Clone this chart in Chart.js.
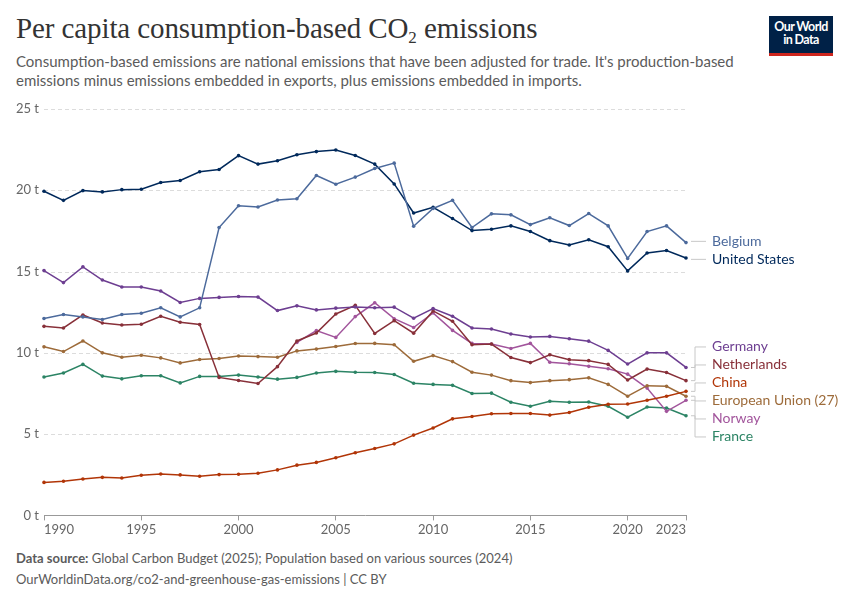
<!DOCTYPE html>
<html>
<head>
<meta charset="utf-8">
<script src="https://cdn.jsdelivr.net/npm/chart.js@4"></script>
<style>
  body { margin: 0; background: #fff; font-family: Lato, "Noto Sans", sans-serif; }
  #page { position: relative; width: 850px; height: 600px; overflow: hidden; }
  h1 { position: absolute; left: 16px; top: 11px; margin: 0; font-family: "Liberation Serif", "DejaVu Serif", serif; font-weight: normal; font-size: 29px; color: #333; letter-spacing: -0.1px; line-height: 34px; }
  h1 sub { font-size: 17px; vertical-align: -5px; line-height: 0; }
  #sub { position: absolute; left: 16px; top: 52px; width: 740px; font-size: 15px; line-height: 19px; color: #5b5b5b; }
  #logo { position: absolute; left: 769px; top: 16px; width: 64px; height: 33px; background: #002147; border-bottom: 3px solid #ce261e; color: #fff; font-size: 12.5px; font-weight: bold; line-height: 13px; text-align: center; padding-top: 4px; letter-spacing: -0.6px; font-family: "Liberation Sans Narrow", Lato, sans-serif; }
  #wrap { position: absolute; left: 0; top: 95px; width: 850px; height: 445px; }
  #foot { position: absolute; left: 16px; top: 548px; font-size: 13px; color: #5b5b5b; line-height: 21px; }
  #foot b { font-weight: bold; }
</style>
</head>
<body>
<div id="page">
  <h1>Per capita consumption-based CO<sub>2</sub> emissions</h1>
  <div id="sub">Consumption-based emissions are national emissions that have been adjusted for trade. It's production-based emissions minus emissions embedded in exports, plus emissions embedded in imports.</div>
  <div id="logo">Our World<br>in Data</div>
  <div id="wrap"><canvas id="chart"></canvas></div>
  <div id="foot"><b>Data source:</b> Global Carbon Budget (2025); Population based on various sources (2024)<br>OurWorldinData.org/co2-and-greenhouse-gas-emissions | CC BY</div>
</div>
<script>
// years and per capita values (tonnes)
const years = [1990, 1991, 1992, 1993, 1994, 1995, 1996, 1997, 1998, 1999, 2000, 2001, 2002, 2003, 2004, 2005, 2006,
               2007, 2008, 2009, 2010, 2011, 2012, 2013, 2014, 2015, 2016, 2017, 2018, 2019, 2020, 2021, 2022, 2023];
const xTicks = [1990, 1995, 2000, 2005, 2010, 2015, 2020, 2023];

const belgium = [12.11, 12.36, 12.21, 12.05, 12.36, 12.44, 12.77, 12.21, 12.77, 17.71, 19.05, 18.97, 19.4, 19.48, 20.91, 20.37, 20.81,
                 21.34, 21.67, 17.79, 18.88, 19.38, 17.71, 18.55, 18.49, 17.89, 18.31, 17.83, 18.57, 17.81, 15.81, 17.46, 17.81, 16.78];
const unitedStates = [19.94, 19.38, 19.98, 19.9, 20.04, 20.06, 20.48, 20.6, 21.14, 21.28, 22.13, 21.61, 21.82, 22.19, 22.38, 22.48, 22.14,
                      21.61, 20.39, 18.6, 18.95, 18.26, 17.52, 17.6, 17.81, 17.46, 16.9, 16.63, 16.96, 16.53, 15.04, 16.14, 16.3, 15.83];
const germany = [15.06, 14.32, 15.29, 14.48, 14.05, 14.05, 13.8, 13.1, 13.35, 13.41, 13.47, 13.43, 12.6, 12.89, 12.64, 12.75, 12.82,
                 12.77, 12.81, 12.13, 12.73, 12.25, 11.53, 11.47, 11.16, 10.97, 11.01, 10.87, 10.72, 10.15, 9.31, 10.0, 10.0, 9.1];
const netherlands = [11.63, 11.53, 12.33, 11.84, 11.71, 11.76, 12.25, 11.88, 11.74, 8.49, 8.3, 8.11, 9.15, 10.73, 11.22, 12.39, 12.92,
                     11.19, 11.98, 11.21, 12.58, 11.94, 10.5, 10.54, 9.71, 9.4, 9.88, 9.58, 9.52, 9.29, 8.33, 9.0, 8.79, 8.29];
const china = [2.03, 2.1, 2.24, 2.34, 2.3, 2.47, 2.55, 2.49, 2.41, 2.51, 2.53, 2.59, 2.8, 3.09, 3.26, 3.55, 3.85,
               4.12, 4.4, 4.94, 5.38, 5.94, 6.08, 6.25, 6.27, 6.27, 6.17, 6.33, 6.65, 6.83, 6.85, 7.08, 7.33, 7.63];
const eu27 = [10.37, 10.08, 10.73, 10.0, 9.73, 9.85, 9.69, 9.38, 9.59, 9.65, 9.81, 9.77, 9.73, 10.12, 10.23, 10.39, 10.57,
              10.58, 10.5, 9.48, 9.83, 9.46, 8.81, 8.63, 8.29, 8.17, 8.29, 8.35, 8.46, 8.06, 7.33, 7.98, 7.94, 7.33];
const norway = [null, null, null, null, null, null, null, null, null, null, null, null, null, 10.64, 11.37, 10.95, 12.23,
                13.08, 12.1, 11.56, 12.46, 11.38, 10.58, 10.54, 10.27, 10.58, 9.42, 9.33, 9.17, 9.02, 8.69, 7.83, 6.4, 7.08];
const france = [8.51, 8.76, 9.29, 8.57, 8.4, 8.59, 8.59, 8.15, 8.55, 8.55, 8.63, 8.51, 8.38, 8.49, 8.76, 8.86, 8.81,
                8.79, 8.67, 8.13, 8.06, 8.0, 7.5, 7.52, 6.96, 6.71, 7.02, 6.96, 6.98, 6.71, 6.04, 6.67, 6.6, 6.13];

function series(label, values, color) {
    return {
        label: label,
        data: years.map((y, i) => ({ x: y, y: values[i] })),
        borderColor: color,
        backgroundColor: color,
        borderWidth: 1.5,
        pointRadius: 1.8,
        pointBorderWidth: 0,
        pointHoverRadius: 3,
        clip: 8,
        spanGaps: false
    };
}

// dashed horizontal grid, drawn under the lines
const dashedGrid = {
    id: 'dashedGrid',
    beforeDatasetsDraw(chart) {
        const ctx = chart.ctx, y = chart.scales.y, area = chart.chartArea;
        ctx.save();
        ctx.strokeStyle = '#dcdcdc';
        ctx.lineWidth = 1;
        ctx.setLineDash([4, 3]);
        y.ticks.forEach(t => {
            if (t.value === 0) return;
            const py = Math.round(y.getPixelForValue(t.value)) + 0.5;
            ctx.beginPath();
            ctx.moveTo(area.left, py);
            ctx.lineTo(area.right, py);
            ctx.stroke();
        });
        ctx.restore();
    }
};

// labels at the right end of each line, with grey connectors
const endLabels = {
    id: 'endLabels',
    afterDatasetsDraw(chart) {
        const ctx = chart.ctx;
        const items = [];
        chart.data.datasets.forEach((ds, i) => {
            const meta = chart.getDatasetMeta(i);
            const pt = meta.data[meta.data.length - 1];
            items.push({ label: ds.label, color: ds.borderColor, px: pt.x, py: pt.y, y: pt.y });
        });
        items.sort((a, b) => a.py - b.py);
        const gap = 18;
        let groups = items.map(it => ({ members: [it], center: it.py }));
        let merged = true;
        while (merged) {
            merged = false;
            for (let k = 0; k < groups.length - 1; k++) {
                const a = groups[k], b = groups[k + 1];
                const aBottom = a.center + (a.members.length - 1) * gap / 2;
                const bTop = b.center - (b.members.length - 1) * gap / 2;
                if (bTop - aBottom < gap) {
                    const m = a.members.concat(b.members);
                    const c = m.reduce((s, x) => s + x.py, 0) / m.length;
                    groups.splice(k, 2, { members: m, center: c });
                    merged = true;
                    break;
                }
            }
        }
        groups.forEach(g => {
            g.members.forEach((m, j) => { m.y = g.center + (j - (g.members.length - 1) / 2) * gap; });
        });

        ctx.save();
        ctx.strokeStyle = '#c8c8c8';
        ctx.lineWidth = 1;
        ctx.font = '14px Lato, "Noto Sans", sans-serif';
        ctx.textBaseline = 'middle';
        items.forEach(m => {
            ctx.beginPath();
            if (Math.abs(m.y - m.py) < 3) {
                ctx.moveTo(m.px + 5, m.y);
                ctx.lineTo(m.px + 20, m.y);
            } else {
                ctx.moveTo(m.px + 5, m.py);
                ctx.lineTo(m.px + 9, m.py);
                ctx.lineTo(m.px + 9, m.y);
                ctx.lineTo(m.px + 20, m.y);
            }
            ctx.stroke();
            ctx.fillStyle = m.color;
            ctx.fillText(m.label, m.px + 26, m.y);
        });
        ctx.restore();
    }
};

new Chart(document.getElementById('chart'), {
    type: 'line',
    data: {
        datasets: [
            series('Belgium', belgium, '#4c6a9c'),
            series('United States', unitedStates, '#00295b'),
            series('Germany', germany, '#6d3e91'),
            series('Netherlands', netherlands, '#883039'),
            series('China', china, '#b13507'),
            series('European Union (27)', eu27, '#9d6b3a'),
            series('Norway', norway, '#a2559c'),
            series('France', france, '#2c8465')
        ]
    },
    options: {
        responsive: true,
        maintainAspectRatio: false,
        animation: false,
        layout: { padding: { left: 0, right: 164, top: 14, bottom: 0 } },
        scales: {
            x: {
                type: 'linear',
                min: 1990,
                max: 2023,
                afterBuildTicks: (axis) => { axis.ticks = xTicks.map(v => ({ value: v })); },
                grid: { drawOnChartArea: false, drawTicks: true, tickLength: 5, color: '#999' },
                border: { display: true, color: '#999' },
                ticks: {
                    autoSkip: false,
                    maxRotation: 0,
                    align: 'inner',
                    padding: 2,
                    color: '#666',
                    font: { family: 'Lato', size: 13 },
                    callback: (v) => String(v)
                }
            },
            y: {
                min: 0,
                max: 25,
                afterFit: (axis) => { axis.width = 44; },
                grid: { display: false, drawTicks: false },
                border: { display: false },
                ticks: {
                    stepSize: 5,
                    padding: 5,
                    color: '#666',
                    font: { family: 'Lato', size: 13 },
                    callback: (v) => v + ' t'
                }
            }
        },
        plugins: {
            legend: { display: false },
            tooltip: { enabled: false }
        }
    },
    plugins: [dashedGrid, endLabels]
});
</script>
</body>
</html>
